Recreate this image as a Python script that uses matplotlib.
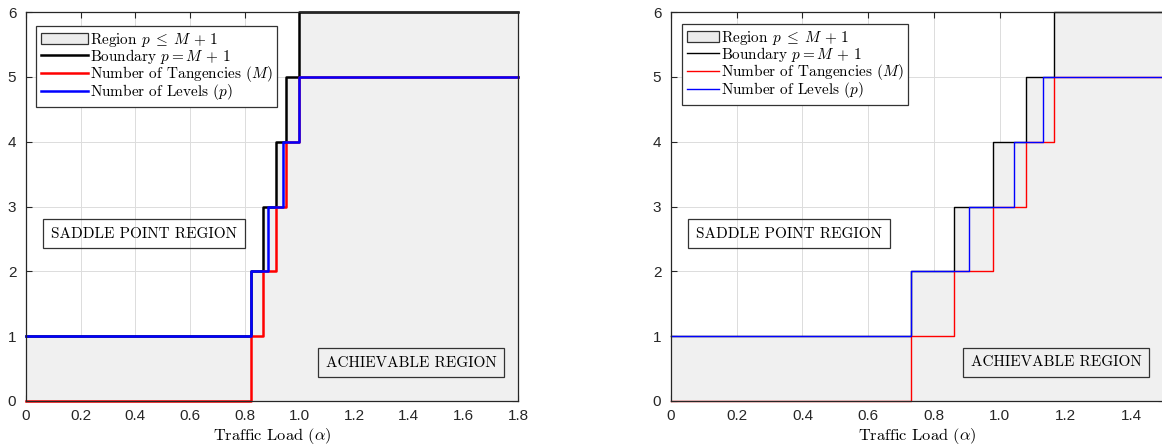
import numpy as np
import matplotlib
matplotlib.use("Agg")
import matplotlib.pyplot as plt
from matplotlib.patches import Patch
from matplotlib.lines import Line2D

plt.rcParams["mathtext.fontset"] = "cm"
plt.rcParams["font.family"] = ["Liberation Sans", "DejaVu Sans"]

# left panel: tangencies M and levels p against traffic load
left_alpha_M = [0, 0.823, 0.866, 0.915, 0.951, 1.0, 1.8]
left_M = [0, 1, 2, 3, 4, 5, 5]
left_alpha_p = [0, 0.823, 0.887, 0.942, 1.0, 1.8]
left_p = [1, 2, 3, 4, 5, 5]

# right panel (figure is cut at alpha ~ 1.5)
right_alpha_M = [0, 0.730, 0.862, 0.981, 1.081, 1.166, 1.8]
right_M = [0, 1, 2, 3, 4, 5, 5]
right_alpha_p = [0, 0.730, 0.907, 1.045, 1.133, 1.8]
right_p = [1, 2, 3, 4, 5, 5]

left_xticks = [0, 0.2, 0.4, 0.6, 0.8, 1.0, 1.2, 1.4, 1.6, 1.8]
left_xlabels = ["0", "0.2", "0.4", "0.6", "0.8", "1.0", "1.2", "1.4", "1.6", "1.8"]
right_xticks = [0, 0.2, 0.4, 0.6, 0.8, 1.0, 1.2, 1.4]
right_xlabels = ["0", "0.2", "0.4", "0.6", "0.8", "1.0", "1.2", "1.4"]
y_ticks = [0, 1, 2, 3, 4, 5, 6]

SERIF = "cmr10"
FILL = "#f0f0f0"


def draw_panel(ax, alpha_M, M, alpha_p, p, xmax, xticks, xlabels, lw,
               saddle_xy, achiev_xy, handlelen, leg_anchor):
    bound = np.array(M) + 1
    ax.fill_between(alpha_M, 0, bound, step="post", color=FILL, lw=0, zorder=1)
    ax.step(alpha_M, bound, where="post", color="black", lw=lw, zorder=3, clip_on=False)
    ax.step(alpha_M, M, where="post", color="#ff0000", lw=lw, zorder=4, clip_on=False)
    ax.step(alpha_p, p, where="post", color="#0000ff", lw=lw, zorder=5, clip_on=False)

    ax.set_xlim(0, xmax)
    ax.set_ylim(0, 6)
    ax.set_xticks(xticks)
    ax.set_xticklabels(xlabels)
    ax.set_yticks(y_ticks)
    ax.tick_params(direction="in", top=True, right=True, length=4,
                   labelsize=11, color="#262626", labelcolor="#262626")
    ax.tick_params(axis="x", pad=6)
    ax.tick_params(axis="y", pad=7)
    ax.grid(True, color="#dcdcdc", lw=0.7, zorder=0)
    ax.set_axisbelow(True)
    for s in ax.spines.values():
        s.set_color("#262626")
        s.set_linewidth(0.9)
        s.set_zorder(6)
    ax.set_xlabel(r"Traffic Load ($\alpha$)", family=SERIF, fontsize=11.8, labelpad=2)

    box = dict(boxstyle="square,pad=0.5", fc="none", ec="#333333", lw=0.9)
    ax.text(*saddle_xy, "SADDLE POINT REGION", family=SERIF, fontsize=11,
            ha="center", va="center", bbox=box, zorder=7)
    ax.text(*achiev_xy, "ACHIEVABLE REGION", family=SERIF, fontsize=11,
            ha="center", va="center", bbox=box, zorder=7)

    handles = [
        Patch(facecolor="#ececec", edgecolor="#333333", lw=0.9),
        Line2D([], [], color="black", lw=lw),
        Line2D([], [], color="#ff0000", lw=lw),
        Line2D([], [], color="#0000ff", lw=lw),
    ]
    labels = [r"Region $p\;\leq\;M\,+\,1$", r"Boundary $p = M\,+\,1$",
              r"Number of Tangencies ($M$)", r"Number of Levels ($p$)"]
    leg = ax.legend(handles, labels, loc="upper left", bbox_to_anchor=leg_anchor,
                    prop={"family": SERIF, "size": 11}, fancybox=False,
                    edgecolor="#333333", framealpha=1, handlelength=handlelen,
                    handletextpad=0.15, labelspacing=-0.12, borderpad=0.3,
                    borderaxespad=0)
    leg.get_frame().set_linewidth(0.9)
    leg.set_zorder(8)


fig = plt.figure(figsize=(11.62, 4.46), dpi=100)
ax1 = fig.add_axes([26 / 1162, 45 / 446, 492 / 1162, 389 / 446])
ax2 = fig.add_axes([671 / 1162, 45 / 446, 493 / 1162, 389 / 446])

draw_panel(ax1, left_alpha_M, left_M, left_alpha_p, left_p, 1.8,
           left_xticks, left_xlabels, 1.8, (0.432, 2.58), (1.409, 0.59), 3.1,
           (10 / 492, 1 - 14 / 389))
draw_panel(ax2, right_alpha_M, right_M, right_alpha_p, right_p, 1.5,
           right_xticks, right_xlabels, 1.0, (0.359, 2.58), (1.172, 0.60), 2.1,
           (11 / 493, 1 - 12 / 389))

fig.savefig("out.png", dpi=100)
